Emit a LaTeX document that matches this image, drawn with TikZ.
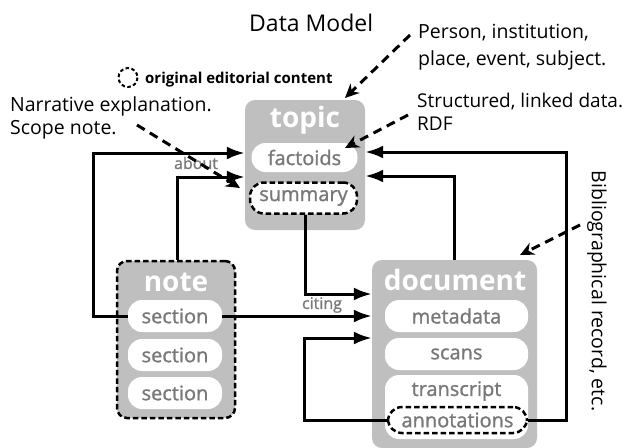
\documentclass[tikz,border=0pt]{standalone}
\usepackage{fontspec}
\setmainfont{Open Sans}
\newfontfamily\lblfont{Open Sans}
\newfontfamily\pillfont[FakeBold=1.2]{Open Sans}
\usetikzlibrary{arrows.meta,calc}
\definecolor{boxgray}{RGB}{191,191,191}
\definecolor{txtgray}{RGB}{120,120,120}
\begin{document}
\begin{tikzpicture}[x=1pt,y=-1pt,
  container/.style={fill=boxgray, rounded corners=10pt, inner sep=0pt},
  dashedborder/.style={draw=black, line width=2.5pt, dash pattern=on 5.5pt off 3pt},
  title/.style={text=white, font=\lblfont\bfseries\fontsize{28}{28}\selectfont, inner sep=0pt},
  pill/.style={fill=white, rounded corners=14pt, inner sep=0pt, text=txtgray,
     font=\pillfont\fontsize{20}{20}\selectfont},
  conn/.style={line width=3pt, -{Latex[length=18pt,width=13pt]}},
  note/.style={line width=3pt, dash pattern=on 9pt off 6pt, -{Stealth[length=14pt,width=13pt]}},
  annot/.style={font=\fontsize{19.5}{23}\selectfont, inner sep=0pt, anchor=base west},
  small/.style={text=txtgray, font=\pillfont\fontsize{16}{16}\selectfont, inner sep=0pt}
]
\useasboundingbox (0,0) rectangle (626,447);

% containers
\node[container, minimum width=120pt, minimum height=130pt] (topic) at (305,165) {};
\node[title] (topiclbl) at (305,120) {topic};
\node[pill, minimum width=106pt, minimum height=29pt] (factoids) at (304.5,157.5) {factoids};
\node[pill, dashedborder, minimum width=107pt, minimum height=31pt] (summary) at (303.5,198) {summary};

\node[container, dashedborder, minimum width=118pt, minimum height=157pt] (note) at (176,339.5) {};
\node[title] (notelbl) at (176,282) {note};
\node[pill, minimum width=94pt, minimum height=32pt] (s1) at (175,316) {section};
\node[pill, minimum width=94pt, minimum height=32pt] (s2) at (175,355) {section};
\node[pill, minimum width=94pt, minimum height=32pt] (s3) at (175,393) {section};

\node[container, minimum width=165pt, minimum height=188pt] (document) at (454.5,354) {};
\node[title] (doclbl) at (455,280) {document};
\node[pill, minimum width=143pt, minimum height=32pt] (metadata) at (456.5,316) {metadata};
\node[pill, minimum width=143pt, minimum height=32pt] (scans) at (456.5,354) {scans};
\node[pill, minimum width=143pt, minimum height=64pt] (transcript) at (456.5,407) {};
\node[text=txtgray, font=\pillfont\fontsize{20}{20}\selectfont, inner sep=0pt] (transcriptlbl) at (456.5,391) {transcript};
\node[pill, dashedborder, fill=white, minimum width=139pt, minimum height=26pt] (annotations) at (457.5,420) {annotations};

% connectors
\draw[conn] (s1.west) -| (93,153) -- (topic.west |- 0,153);
\draw[conn] (note.north -| 177,0) |- (topic.west |- 0,177);
\draw[conn] (s1.east) -- (document.west |- s1.east);
\draw[conn] (summary.south -| 305,0) |- (document.west |- 0,294);
\draw[conn] (annotations.west) -| (304,338) -- (document.west |- 0,338);
\draw[conn] (annotations.east) -| (566,152) -- (topic.east |- 0,152);
\draw[conn] (document.north -| 454,0) |- (topic.east |- 0,176);

\node[small] (about) at (196,163) {about};
\node[small] (citing) at (322,305) {citing};

% annotations
\node[font=\fontsize{23}{23}\selectfont, inner sep=0pt, anchor=base west] (datamodel) at (249,31) {Data Model};
\draw[line width=2pt, dash pattern=on 3.5pt off 2.5pt] (128,77.5) circle (9.5);
\node[font=\bfseries\fontsize{15}{15}\selectfont, anchor=base west, inner sep=0pt] (legend) at (145,83) {original editorial content};

\node[annot] (narr1) at (10,111) {Narrative explanation.};
\node[annot] (narr2) at (10,134.5) {Scope note.};
\node[annot] (pers1) at (418,38) {Person, institution,};
\node[annot] (pers2) at (418,65) {place, event, subject.};
\node[annot, font=\fontsize{19}{23}\selectfont] (str1) at (417,107) {Structured, linked data.};
\node[annot, font=\fontsize{19}{23}\selectfont] (str2) at (417,130) {RDF};
\node[font=\fontsize{19.5}{23}\selectfont, inner sep=0pt, rotate=-90] (biblio) at (597,291) {Bibliographical record, etc.};

\coordinate (narrS) at (137,125);
\coordinate (narrE) at (240,188);
\coordinate (persS) at (410,35);
\coordinate (persE) at (345,98);
\coordinate (strS) at (408,115);
\coordinate (strE) at (345,148);
\coordinate (bibS) at (580,225);
\coordinate (bibE) at (520,255);
\draw[note] (narrS) -- (narrE);
\draw[note] (persS) -- (persE);
\draw[note] (strS) -- (strE);
\draw[note] (bibS) -- (bibE);
\end{tikzpicture}
\end{document}
